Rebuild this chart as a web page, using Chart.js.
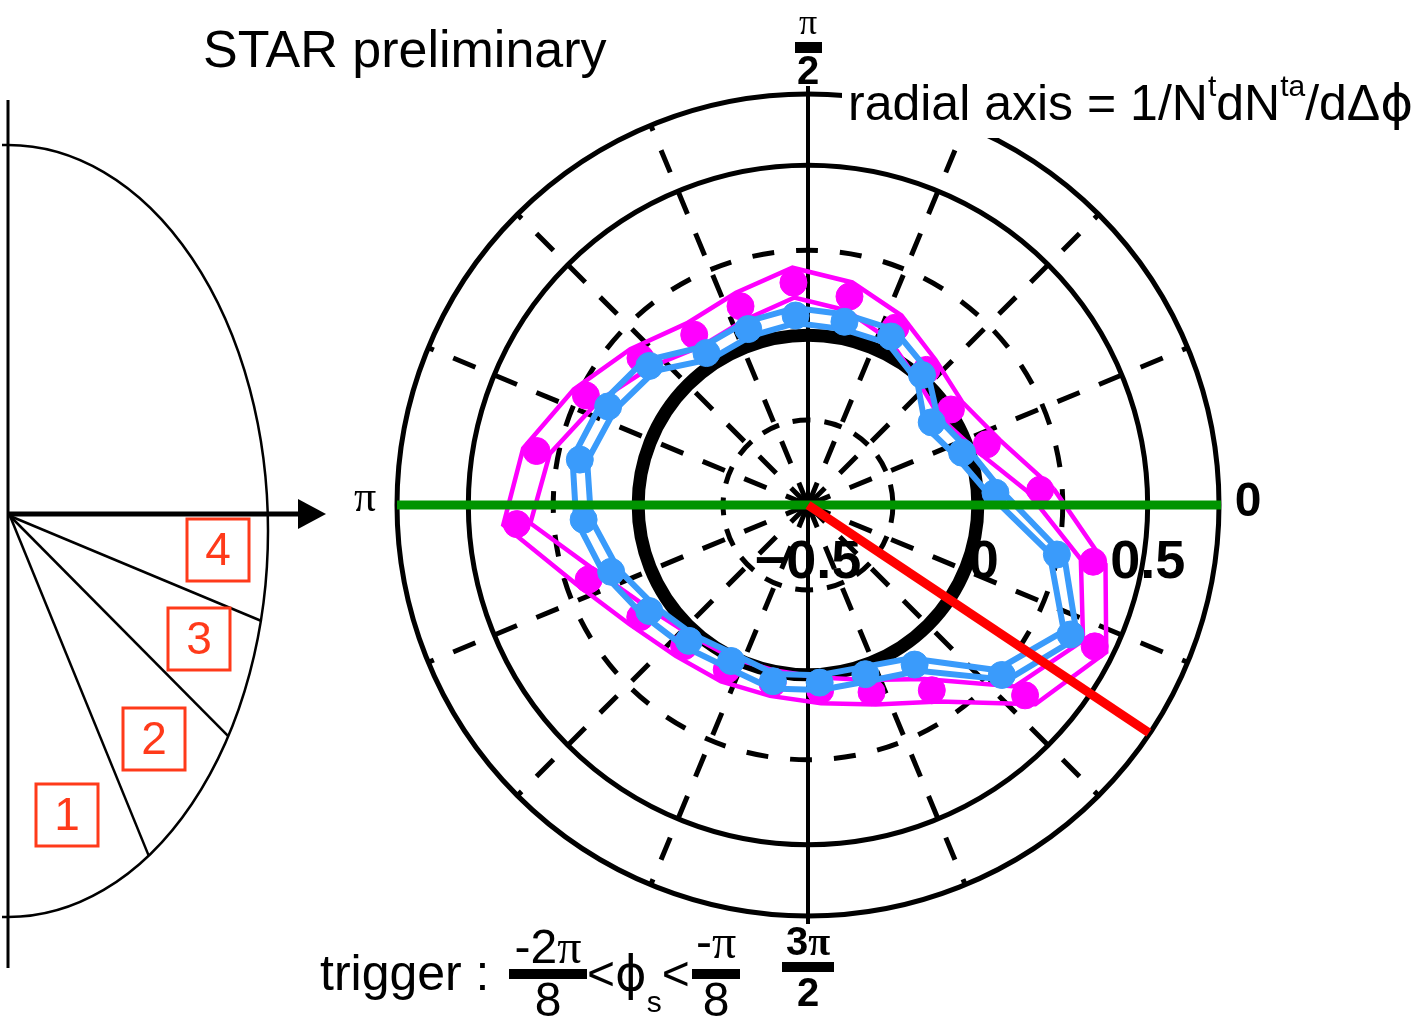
<!DOCTYPE html>
<html><head><meta charset="utf-8">
<script src="https://cdn.jsdelivr.net/npm/chart.js@4/dist/chart.umd.min.js"></script>
<style>html,body{margin:0;padding:0;background:#fff;}#wrap{position:relative;width:1420px;height:1021px;}</style>
</head><body><div id="wrap"><canvas id="c" width="1420" height="1021"></canvas></div>
<script>
// ---- data (angles in degrees, counter-clockwise from the "0" direction) ----
const angleDeg = [3.75,18.75,33.75,48.75,63.75,78.75,93.75,108.75,123.75,138.75,153.75,168.75,183.75,198.75,213.75,228.75,243.75,258.75,273.75,288.75,303.75,318.75,333.75,348.75];
const magentaVal = [0.185,0.056,0.006,0.029,0.082,0.126,0.156,0.118,0.103,0.156,0.229,0.315,0.359,0.182,0.094,0.053,0.041,0.035,0.047,0.082,0.156,0.350,0.441,0.356];
const magentaErr = [0.040,0.040,0.040,0.040,0.040,0.042,0.044,0.042,0.040,0.040,0.040,0.040,0.040,0.040,0.038,0.038,0.038,0.038,0.038,0.038,0.040,0.040,0.038,0.037];
const blueVal = [0.053,-0.021,-0.062,0.009,0.053,0.050,0.059,0.047,0.038,0.121,0.156,0.185,0.162,0.112,0.062,0.032,0.012,0.029,0.024,0.026,0.065,0.259,0.362,0.247];
const blueErr = [0.022,0.022,0.022,0.022,0.022,0.022,0.022,0.022,0.022,0.022,0.022,0.022,0.022,0.022,0.022,0.022,0.022,0.022,0.022,0.022,0.022,0.022,0.022,0.022];
const rMin = -0.5, rMax = 0.71;
const radialTicks = [-0.5, 0, 0.5];
const radialTickText = ['\u22120.5', '0', '0.5'];
const dashedRings = [-0.25, 0.25];
const solidRings = [0.5, rMax];
const zeroRing = 0;
const spokeDeg = [22.5,45,67.5,112.5,135,157.5,202.5,225,247.5,292.5,315,337.5];
const triggerDeg = -33.75;

const R = rMax - rMin;
const rad = d => d * Math.PI / 180;
function polar(vals, errs, sign) {
  const pts = vals.map((v, i) => {
    const r = v + sign * errs[i] - rMin;
    return { x: r * Math.cos(rad(angleDeg[i])), y: r * Math.sin(rad(angleDeg[i])) };
  });
  return pts.concat([pts[0]]);
}
const zeros = angleDeg.map(() => 0);
const MAG = '#ff00ff', BLU = '#3a9bfb';

const datasets = [
  { data: polar(blueVal, zeros, 0).slice(0, -1), showLine: false, pointRadius: 13.5, pointBackgroundColor: BLU, pointBorderColor: BLU, pointBorderWidth: 1, order: 0 },
  { data: polar(blueVal, blueErr, 1), showLine: true, borderColor: BLU, borderWidth: 6, pointRadius: 0, order: 1 },
  { data: polar(blueVal, blueErr, -1), showLine: true, borderColor: BLU, borderWidth: 6, pointRadius: 0, order: 1 },
  { data: polar(magentaVal, zeros, 0).slice(0, -1), showLine: false, pointRadius: 13.5, pointBackgroundColor: MAG, pointBorderColor: MAG, pointBorderWidth: 1, order: 2 },
  { data: polar(magentaVal, magentaErr, 1), showLine: true, borderColor: MAG, borderWidth: 4.5, pointRadius: 0, order: 3 },
  { data: polar(magentaVal, magentaErr, -1), showLine: true, borderColor: MAG, borderWidth: 4.5, pointRadius: 0, order: 3 }
];
datasets.forEach(d => { d.clip = false; d.fill = false; d.tension = 0; });

const SANS = '"Liberation Sans", Arial, Helvetica, "DejaVu Sans", sans-serif';
const SERIF = '"Liberation Serif", "DejaVu Serif", serif';
const PHI = '"DejaVu Sans", sans-serif';

function runs(ctx, parts, x, base, align) {
  let w = 0;
  parts.forEach(p => { ctx.font = p.f; p.w = ctx.measureText(p.t).width; w += p.w; });
  let cx = align === 'center' ? x - w / 2 : x;
  ctx.textAlign = 'left'; ctx.textBaseline = 'alphabetic';
  parts.forEach(p => { ctx.font = p.f; ctx.fillText(p.t, cx, base + (p.dy || 0)); cx += p.w + (p.gap || 0); });
  return w;
}

const deco = {
  id: 'deco',
  beforeDatasetsDraw(chart) {
    const { ctx, scales: { x, y } } = chart;
    const cx = x.getPixelForValue(0), cy = y.getPixelForValue(0);
    const pr = v => x.getPixelForValue(v - rMin) - cx;
    const Rout = pr(rMax);
    ctx.save();
    ctx.fillStyle = '#000';
    // radial tick labels
    ctx.font = 'bold 54px ' + SANS; ctx.textAlign = 'center'; ctx.textBaseline = 'middle';
    radialTicks.forEach((v, i) => ctx.fillText(radialTickText[i], cx + pr(v) + (i === 1 ? 6 : 0), cy + 58));
    ctx.strokeStyle = '#000';
    // spokes
    ctx.lineWidth = 5; ctx.setLineDash([24, 21]); ctx.lineCap = 'butt';
    spokeDeg.forEach(d => {
      ctx.beginPath(); ctx.moveTo(cx, cy);
      ctx.lineTo(cx + Rout * Math.cos(rad(d)), cy - Rout * Math.sin(rad(d))); ctx.stroke();
    });
    // dashed rings
    dashedRings.forEach((v, i) => {
      ctx.setLineDash(i === 0 ? [18, 14] : [22, 22]);
      ctx.beginPath(); ctx.arc(cx, cy, pr(v), 0, Math.PI * 2); ctx.stroke();
    });
    ctx.setLineDash([]);
    // solid rings
    ctx.lineWidth = 5;
    solidRings.forEach(v => { ctx.beginPath(); ctx.arc(cx, cy, pr(v), 0, Math.PI * 2); ctx.stroke(); });
    // thick zero ring
    ctx.lineWidth = 13;
    ctx.beginPath(); ctx.arc(cx, cy, pr(zeroRing), 0, Math.PI * 2); ctx.stroke();
    // vertical axis
    ctx.lineWidth = 4;
    ctx.beginPath(); ctx.moveTo(cx, cy - Rout - 8); ctx.lineTo(cx, cy + Rout + 8); ctx.stroke();
    ctx.restore();
  },
  afterDatasetsDraw(chart) {
    const { ctx, scales: { x, y } } = chart;
    const cx = x.getPixelForValue(0), cy = y.getPixelForValue(0);
    const pr = v => x.getPixelForValue(v - rMin) - cx;
    const Rout = pr(rMax);
    ctx.save();
    ctx.lineCap = 'butt';
    ctx.strokeStyle = '#009400'; ctx.lineWidth = 9;
    ctx.beginPath(); ctx.moveTo(cx - Rout, cy); ctx.lineTo(cx + Rout + 2, cy); ctx.stroke();
    ctx.strokeStyle = '#ff0000'; ctx.lineWidth = 9;
    const rr = Rout - 1;
    ctx.beginPath(); ctx.moveTo(cx, cy); ctx.lineTo(cx + rr * Math.cos(rad(triggerDeg)), cy - rr * Math.sin(rad(triggerDeg))); ctx.stroke();
    // angle labels
    ctx.fillStyle = '#000';
    ctx.font = 'bold 48px ' + SANS; ctx.textAlign = 'center'; ctx.textBaseline = 'middle';
    ctx.fillText('0', cx + Rout + 29, cy - 2);
    ctx.font = '44px ' + SERIF;
    ctx.fillText('\u03c0', cx - Rout - 32, cy - 6);
    // pi/2 top
    runs(ctx, [{ t: '\u03c0', f: '36px ' + SERIF }], cx, 34, 'center');
    ctx.fillRect(cx - 13, 42, 27, 11);
    runs(ctx, [{ t: '2', f: 'bold 40px ' + SANS }], cx, 84, 'center');
    // 3pi/2 bottom
    runs(ctx, [{ t: '3', f: 'bold 40px ' + SANS }, { t: '\u03c0', f: 'bold 40px ' + SERIF }], cx, 955, 'center');
    ctx.fillRect(cx - 26, 962, 52, 10);
    runs(ctx, [{ t: '2', f: 'bold 40px ' + SANS }], cx, 1006, 'center');
    ctx.restore();
  },
  afterDraw(chart) {
    const { ctx } = chart;
    ctx.save();
    // white backing for the radial-axis annotation (it hides the outer ring there)
    ctx.fillStyle = '#fff';
    ctx.fillRect(842, 76, 578, 62);
    ctx.fillStyle = '#000'; ctx.strokeStyle = '#000';
    // texts
    runs(ctx, [{ t: 'STAR preliminary', f: '52px ' + SANS }], 203, 67, 'left');
    runs(ctx, [
      { t: 'radial axis = 1/N', f: '50px ' + SANS },
      { t: 't', f: '30px ' + SANS, dy: -24 },
      { t: 'dN', f: '50px ' + SANS },
      { t: 'ta', f: '30px ' + SANS, dy: -24 },
      { t: '/d\u0394', f: '50px ' + SANS },
      { t: '\u03d5', f: '50px ' + PHI }
    ], 848, 120, 'left');
    // trigger expression
    runs(ctx, [{ t: 'trigger :', f: '50px ' + SANS }], 320, 990, 'left');
    runs(ctx, [{ t: '-2', f: '48px ' + SANS }, { t: '\u03c0', f: '48px ' + SERIF }], 548, 963, 'center');
    ctx.fillRect(509, 969, 78, 10);
    runs(ctx, [{ t: '8', f: '48px ' + SANS }], 548, 1016, 'center');
    runs(ctx, [{ t: '<', f: '48px ' + SANS }, { t: '\u03d5', f: '48px ' + PHI }, { t: 's', f: '30px ' + SANS, dy: 22 }, { t: '<', f: '48px ' + SANS }], 587, 990, 'left');
    runs(ctx, [{ t: '-', f: '48px ' + SANS }, { t: '\u03c0', f: '48px ' + SERIF }], 716, 958, 'center');
    ctx.fillRect(692, 969, 48, 10);
    runs(ctx, [{ t: '8', f: '48px ' + SANS }], 716, 1016, 'center');

    // left schematic
    const ex = 8, ey = 531, ea = 260, eb = 386, oy = 516;
    ctx.lineWidth = 3;
    ctx.beginPath(); ctx.moveTo(ex, 100); ctx.lineTo(ex, 968); ctx.stroke();
    ctx.lineWidth = 2.5;
    ctx.beginPath(); ctx.ellipse(ex, ey, ea, eb, 0, -Math.PI / 2, Math.PI / 2); ctx.stroke();
    ctx.beginPath(); ctx.moveTo(2, ey - eb); ctx.lineTo(ex, ey - eb); ctx.moveTo(2, ey + eb); ctx.lineTo(ex, ey + eb); ctx.stroke();
    [22.5, 45, 67.5].forEach(d => {
      const c = Math.cos(rad(d)), s = Math.sin(rad(d));
      const A = (c / ea) ** 2 + (s / eb) ** 2, B = 2 * s * (oy - ey) / (eb * eb), C = ((oy - ey) / eb) ** 2 - 1;
      const t = (-B + Math.sqrt(B * B - 4 * A * C)) / (2 * A);
      ctx.beginPath(); ctx.moveTo(ex + 2, oy); ctx.lineTo(ex + t * c, oy + t * s); ctx.stroke();
    });
    ctx.lineWidth = 5;
    ctx.beginPath(); ctx.moveTo(ex, 514); ctx.lineTo(302, 514); ctx.stroke();
    ctx.beginPath(); ctx.moveTo(298, 499); ctx.lineTo(326, 514); ctx.lineTo(298, 529); ctx.closePath(); ctx.fill();
    // numbered boxes
    const RED = '#ff3a1a';
    ctx.strokeStyle = RED; ctx.fillStyle = RED; ctx.lineWidth = 3;
    [[187, 519, '4'], [168, 608, '3'], [123, 708, '2'], [36, 784, '1']].forEach(b => {
      ctx.strokeRect(b[0], b[1], 62, 62);
      ctx.font = '46px ' + SANS; ctx.textAlign = 'center'; ctx.textBaseline = 'middle';
      ctx.fillText(b[2], b[0] + 31, b[1] + 33);
    });
    ctx.restore();
  }
};

new Chart(document.getElementById('c'), {
  type: 'scatter',
  data: { datasets },
  options: {
    responsive: false, animation: false, devicePixelRatio: 1,
    layout: { padding: { left: 397, right: 201, top: 94, bottom: 105 } },
    scales: {
      x: { type: 'linear', min: -R, max: R, display: false },
      y: { type: 'linear', min: -R, max: R, display: false }
    },
    plugins: { legend: { display: false }, tooltip: { enabled: false } }
  },
  plugins: [deco]
});
</script></body></html>
